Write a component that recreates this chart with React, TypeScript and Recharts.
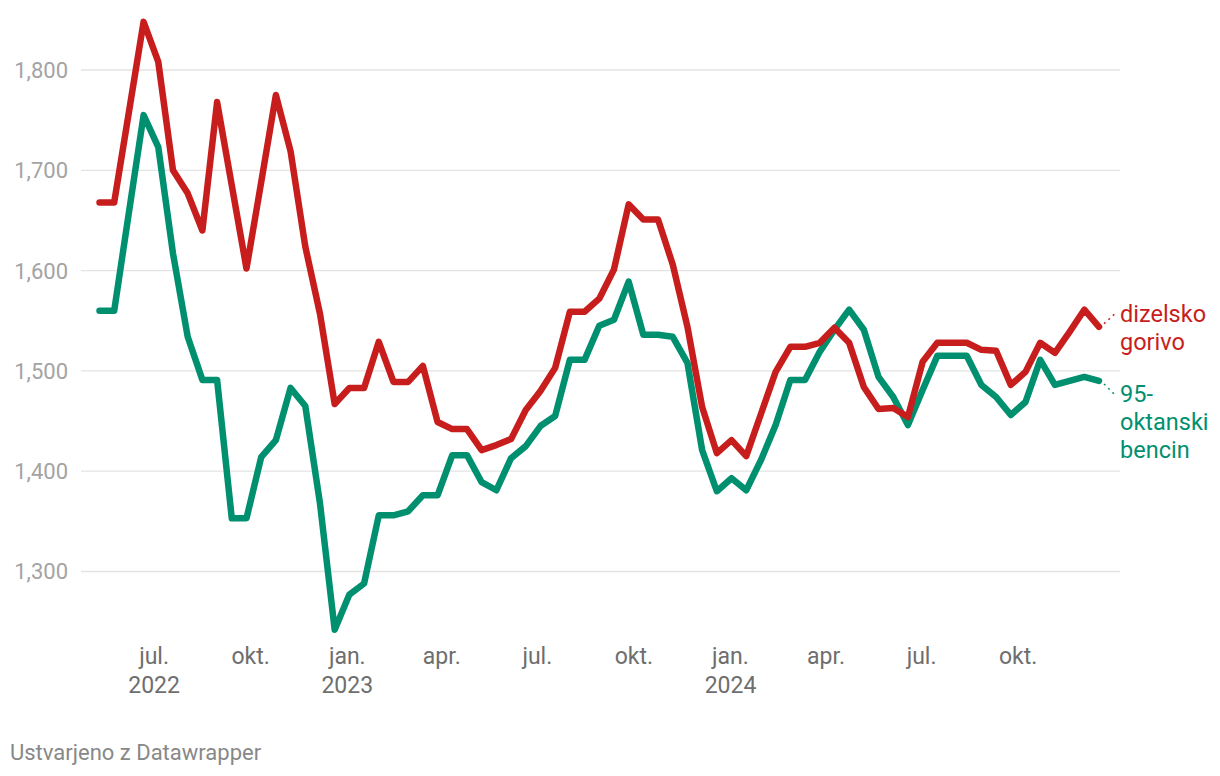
import React from "react";
import { CartesianGrid, Line, LineChart, XAxis, YAxis } from "recharts";

// biweekly price changes
const dates = [
  "2022-05-10", "2022-05-24", "2022-06-07", "2022-06-21", "2022-07-05", "2022-07-19",
  "2022-08-02", "2022-08-16", "2022-08-30", "2022-09-13", "2022-09-27", "2022-10-11",
  "2022-10-25", "2022-11-08", "2022-11-22", "2022-12-06", "2022-12-20",
  "2023-01-03", "2023-01-17", "2023-01-31", "2023-02-14", "2023-02-28", "2023-03-14",
  "2023-03-28", "2023-04-11", "2023-04-25", "2023-05-09", "2023-05-23", "2023-06-06",
  "2023-06-20", "2023-07-04", "2023-07-18", "2023-08-01", "2023-08-15", "2023-08-29",
  "2023-09-12", "2023-09-26", "2023-10-10", "2023-10-24", "2023-11-07", "2023-11-21",
  "2023-12-05", "2023-12-19",
  "2024-01-02", "2024-01-16", "2024-01-30", "2024-02-13", "2024-02-27", "2024-03-12",
  "2024-03-26", "2024-04-09", "2024-04-23", "2024-05-07", "2024-05-21", "2024-06-04",
  "2024-06-18", "2024-07-02", "2024-07-16", "2024-07-30", "2024-08-13", "2024-08-27",
  "2024-09-10", "2024-09-24", "2024-10-08", "2024-10-22", "2024-11-05", "2024-11-19",
  "2024-12-03", "2024-12-17",
];

const diesel = [
  1.668, 1.668, 1.758, 1.848, 1.808, 1.7, 1.677, 1.64, 1.768, 1.685, 1.602, 1.688,
  1.775, 1.719, 1.624, 1.557, 1.467, 1.483, 1.483, 1.529, 1.489, 1.489, 1.505, 1.449,
  1.442, 1.442, 1.421, 1.426, 1.432, 1.461, 1.48, 1.503, 1.559, 1.559, 1.572, 1.601,
  1.666, 1.651, 1.651, 1.606, 1.544, 1.464, 1.418, 1.431, 1.415, 1.457, 1.499, 1.524,
  1.524, 1.528, 1.543, 1.528, 1.484, 1.462, 1.463, 1.454, 1.509, 1.528, 1.528, 1.528,
  1.521, 1.52, 1.486, 1.499, 1.528, 1.518, 1.539, 1.561, 1.544,
];

const petrol95 = [
  1.56, 1.56, 1.658, 1.755, 1.723, 1.617, 1.534, 1.491, 1.491, 1.353, 1.353, 1.414,
  1.431, 1.483, 1.465, 1.368, 1.242, 1.277, 1.288, 1.356, 1.356, 1.36, 1.376, 1.376,
  1.416, 1.416, 1.389, 1.381, 1.413, 1.425, 1.445, 1.455, 1.511, 1.511, 1.545, 1.551,
  1.589, 1.536, 1.536, 1.534, 1.508, 1.421, 1.38, 1.393, 1.381, 1.411, 1.446, 1.491,
  1.491, 1.519, 1.541, 1.561, 1.541, 1.494, 1.474, 1.446, 1.481, 1.515, 1.515, 1.515,
  1.486, 1.474, 1.456, 1.469, 1.511, 1.486, 1.49, 1.494, 1.49,
];

const tickDates = [
  "2022-07-01", "2022-10-01", "2023-01-01", "2023-04-01", "2023-07-01",
  "2023-10-01", "2024-01-01", "2024-04-01", "2024-07-01", "2024-10-01",
];
const tickMonths = ["jul.", "okt.", "jan.", "apr.", "jul.", "okt.", "jan.", "apr.", "jul.", "okt."];
const tickYears = ["2022", "", "2023", "", "", "", "2024", "", "", ""];

const yTicks = [1.3, 1.4, 1.5, 1.6, 1.7, 1.8];

const RED = "#c71e1d";
const GREEN = "#00906f";
const FONT = "Roboto, sans-serif";

const data = dates.map((d, i) => ({
  t: Date.parse(d),
  diesel: diesel[i],
  petrol: petrol95[i],
}));

const xTickValues = tickDates.map((d) => Date.parse(d));

function XTick(props: any) {
  const { x, y, payload } = props;
  const i = xTickValues.indexOf(payload.value);
  return (
    <g>
      <text x={x} y={y + 22} textAnchor="middle" fill="#6e6e6e" fontSize={23} fontFamily={FONT}>
        {tickMonths[i]}
      </text>
      {tickYears[i] ? (
        <text x={x} y={y + 51} textAnchor="middle" fill="#6e6e6e" fontSize={23} fontFamily={FONT}>
          {tickYears[i]}
        </text>
      ) : null}
    </g>
  );
}

function YTick(props: any) {
  const { y, payload } = props;
  return (
    <text x={68} y={y + 8} textAnchor="end" fill="#a3a3a3" fontSize={22} fontFamily={FONT}>
      {payload.value.toFixed(3).replace(".", ",")}
    </text>
  );
}

function endLabel(lines: string[], color: string, dyText: number, dot: [number, number, number, number]) {
  return (props: any) => {
    const { x, y, index } = props;
    if (index !== data.length - 1) return null;
    return (
      <g>
        <line
          x1={x + dot[0]}
          y1={y + dot[1]}
          x2={x + dot[2]}
          y2={y + dot[3]}
          stroke={color}
          strokeWidth={1.5}
          strokeDasharray="2 4"
        />
        {lines.map((l, k) => (
          <text key={k} x={x + 21} y={y + dyText + k * 28} fill={color} fontSize={23.5} fontFamily={FONT}>
            {l}
          </text>
        ))}
      </g>
    );
  };
}

export default function App() {
  return (
    <div style={{ position: "absolute", left: 0, top: 0, width: 1220, height: 776, background: "#fff" }}>
      <LineChart
        width={1220}
        height={776}
        data={data}
        margin={{ top: 9.8, right: 100, bottom: 74.3, left: 0 }}
      >
        <CartesianGrid
          stroke="#e3e3e3"
          strokeWidth={1.3}
          vertical={false}
          horizontalValues={yTicks}
        />
        <XAxis
          dataKey="t"
          type="number"
          scale="time"
          domain={["dataMin", "dataMax"]}
          ticks={xTickValues}
          tick={<XTick />}
          padding={{ left: 18.5, right: 21 }}
          axisLine={false}
          tickLine={false}
          tickSize={0}
          tickMargin={0}
          height={60}
          interval={0}
        />
        <YAxis
          type="number"
          domain={[1.23, 1.86]}
          ticks={yTicks}
          tick={<YTick />}
          axisLine={false}
          tickLine={false}
          width={81}
          allowDataOverflow
          interval={0}
        />
        <Line
          dataKey="petrol"
          stroke={GREEN}
          strokeWidth={6.5}
          dot={false}
          strokeLinejoin="round"
          strokeLinecap="round"
          isAnimationActive={false}
          label={endLabel(["95-", "oktanski", "bencin"], GREEN, 21, [5, 3, 17, 15])}
        />
        <Line
          dataKey="diesel"
          stroke={RED}
          strokeWidth={6.5}
          dot={false}
          strokeLinejoin="round"
          strokeLinecap="round"
          isAnimationActive={false}
          label={endLabel(["dizelsko", "gorivo"], RED, -5, [5, -3, 17, -14])}
        />
      </LineChart>
      <svg width={400} height={40} style={{ position: "absolute", left: 0, top: 736 }}>
        <text x={10} y={24} fill="#888888" fontSize={22} fontFamily={FONT}>
          Ustvarjeno z Datawrapper
        </text>
      </svg>
    </div>
  );
}
